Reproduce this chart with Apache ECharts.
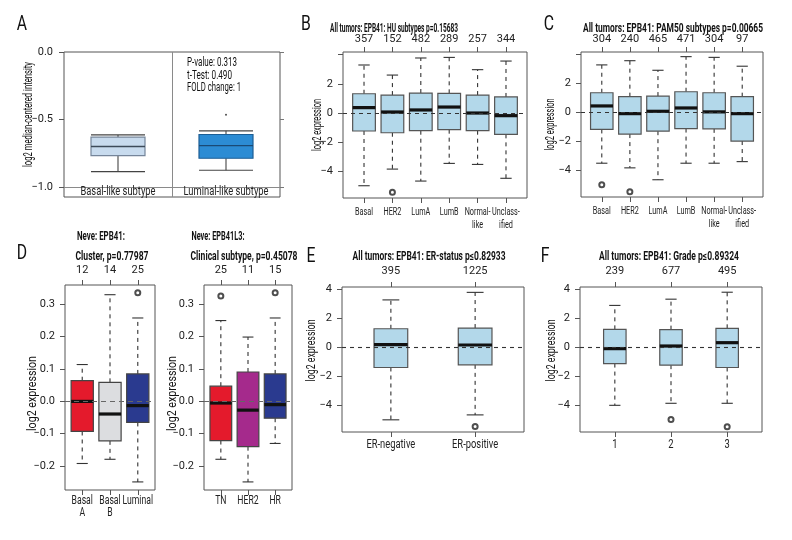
<!DOCTYPE html>
<html>
<head>
<meta charset="utf-8">
<script src="https://cdn.jsdelivr.net/npm/echarts@6.0.0/dist/echarts.min.js"></script>
<style>html,body{margin:0;padding:0;background:#fff}#main{width:792px;height:540px}</style>
</head>
<body>
<div id="main"></div>
<script>
var FONT = "Roboto,'Liberation Sans',sans-serif";

// every box is [lower whisker, Q1, median, Q3, upper whisker]
// A: cell lines
var aCats = ['Basal-like subtype', 'Luminal-like subtype'];
var aBox = [[-0.886, -0.767, -0.700, -0.631, -0.614], [-0.876, -0.787, -0.693, -0.611, -0.584]];
var aOut = [[2, -0.465]];

// B: HU subtypes
var huCats = ['Basal', 'HER2', 'LumA', 'LumB', 'Normal-\nlike', 'Unclass-\nified'];
var huN = [357, 152, 482, 289, 257, 344];
var huBox = [
    [-4.98, -1.23, 0.37, 1.32, 3.29],
    [-3.84, -1.35, 0.07, 1.23, 2.60],
    [-4.66, -1.21, 0.21, 1.37, 3.77],
    [-3.45, -1.14, 0.41, 1.35, 3.81],
    [-3.52, -1.21, 0.00, 1.23, 2.97],
    [-4.47, -1.46, -0.18, 1.10, 3.56]];
var huOut = [[2, -5.43]];

// C: PAM50 subtypes
var pamCats = huCats;
var pamN = [304, 240, 465, 471, 304, 97];
var pamBox = [
    [-3.49, -1.16, 0.46, 1.37, 3.29],
    [-3.81, -1.48, -0.07, 1.10, 3.58],
    [-4.63, -1.28, 0.09, 1.14, 2.92],
    [-3.49, -1.10, 0.32, 1.44, 3.86],
    [-3.49, -1.12, 0.05, 1.37, 3.81],
    [-3.38, -1.96, -0.07, 1.10, 3.20]];
var pamOut = [[1, -4.98], [2, -5.46]];

// D: Neve cluster / clinical subtype
var clCats = ['Basal\nA', 'Basal\nB', 'Luminal'];
var clN = [12, 14, 25];
var clBox = [[-0.192, -0.093, 0.000, 0.064, 0.114], [-0.179, -0.122, -0.039, 0.059, 0.330], [-0.249, -0.065, -0.013, 0.085, 0.258]];
var clOut = [[3, 0.336]];
var clColors = ['#e41a2c', '#dcdde0', '#2a3a8f'];

var csCats = ['TN', 'HER2', 'HR'];
var csN = [25, 11, 15];
var csBox = [[-0.179, -0.121, -0.005, 0.047, 0.250], [-0.249, -0.140, -0.027, 0.091, 0.199], [-0.130, -0.052, -0.010, 0.085, 0.258]];
var csOut = [[1, 0.326], [3, 0.336]];
var csColors = ['#e41a2c', '#a52a8c', '#2a3a8f'];

// E: ER status
var erCats = ['ER-negative', 'ER-positive'];
var erN = [395, 1225];
var erBox = [[-4.98, -1.37, 0.21, 1.30, 3.29], [-4.64, -1.19, 0.18, 1.35, 3.81]];
var erOut = [[2, -5.44]];

// F: grade
var grCats = ['1', '2', '3'];
var grN = [239, 677, 495];
var grBox = [[-3.98, -1.10, -0.07, 1.26, 2.91], [-3.84, -1.21, 0.11, 1.24, 3.34], [-3.84, -1.37, 0.34, 1.33, 3.82]];
var grOut = [[2, -4.96], [3, -5.45]];

var grids = [], xAxes = [], yAxes = [], series = [], graphics = [];

function minus(v, d) {
    var s = Math.abs(v).toFixed(d);
    return v < -1e-9 ? '\u2212' + s : s;
}

function boxRender(p) {
    return function (params, api) {
        var x = api.value(0);
        var lo = api.coord([x, api.value(1)]);
        var q1 = api.coord([x, api.value(2)]);
        var md = api.coord([x, api.value(3)]);
        var q3 = api.coord([x, api.value(4)]);
        var hi = api.coord([x, api.value(5)]);
        var bw = api.size([p.wex, 0])[0];
        var cw = bw * p.staple;
        var cx = q1[0];
        var i = params.dataIndex;
        var fill = Array.isArray(p.fill) ? p.fill[i] : p.fill;
        var border = Array.isArray(p.border) ? p.border[i] : p.border;
        var med = Array.isArray(p.median) ? p.median[i] : p.median;
        var ws = {stroke: p.whisker, lineWidth: 1.1, lineDash: p.dash};
        var cs = {stroke: p.whisker, lineWidth: 1.1};
        return {type: 'group', children: [
            {type: 'line', shape: {x1: cx, y1: q3[1], x2: cx, y2: hi[1]}, style: ws},
            {type: 'line', shape: {x1: cx, y1: q1[1], x2: cx, y2: lo[1]}, style: ws},
            {type: 'line', shape: {x1: cx - cw / 2, y1: hi[1], x2: cx + cw / 2, y2: hi[1]}, style: cs},
            {type: 'line', shape: {x1: cx - cw / 2, y1: lo[1], x2: cx + cw / 2, y2: lo[1]}, style: cs},
            {type: 'rect', shape: {x: cx - bw / 2, y: q3[1], width: bw, height: q1[1] - q3[1]},
                style: {fill: fill, stroke: border, lineWidth: 1.2}},
            {type: 'line', shape: {x1: cx - bw / 2, y1: md[1], x2: cx + bw / 2, y2: md[1]},
                style: {stroke: med, lineWidth: p.medW}}
        ]};
    };
}

// category names, drawn at the axis positions but narrowed like the condensed face of the original
function labelRender(p) {
    return function (params, api) {
        var pt = api.coord([api.value(0), p.ymin]);
        return {type: 'text', x: pt[0], y: p.labelInside ? pt[1] - p.xMargin : pt[1] + p.xMargin, scaleX: p.xScale,
            style: {text: p.cats[params.dataIndex], font: p.xFont + 'px ' + FONT, fill: '#222',
                align: 'center', verticalAlign: p.labelInside ? 'middle' : 'top', lineHeight: p.xLine}};
    };
}

function addPanel(p) {
    var gi = grids.length;
    grids.push({left: p.left, top: p.top, width: p.width, height: p.height, show: true,
        borderColor: '#555', borderWidth: 1, backgroundColor: 'transparent'});
    var n = p.cats.length;
    var pos = [];
    for (var i = 1; i <= n; i++) pos.push(i);
    var pad = p.pad != null ? p.pad : 0.5 + 0.04 * n;
    var xmin = 1 - pad, xmax = n + pad;

    var xi = xAxes.length;
    xAxes.push({gridIndex: gi, type: 'value', position: 'bottom', min: xmin, max: xmax,
        axisLine: {show: false, onZero: false}, splitLine: {show: false}, axisLabel: {show: false},
        axisTick: {show: p.bottomTick !== false, customValues: pos, length: 5, lineStyle: {color: '#555'}}});
    if (p.counts) {
        xAxes.push({gridIndex: gi, type: 'value', position: 'top', min: xmin, max: xmax,
            axisLine: {show: false, onZero: false}, splitLine: {show: false},
            axisTick: {customValues: pos, length: 5, lineStyle: {color: '#555'}},
            axisLabel: {customValues: pos, showMinLabel: true, showMaxLabel: true, margin: p.topMargin || 7,
                color: '#222', fontSize: p.tickFont, fontFamily: FONT,
                formatter: function (v) { return String(p.counts[Math.round(v) - 1]); }}});
    }

    var yi = yAxes.length;
    yAxes.push({gridIndex: gi, type: 'value', min: p.ymin, max: p.ymax,
        axisLine: {show: false}, splitLine: {show: false},
        axisTick: {customValues: p.yTicks, length: 5, lineStyle: {color: '#555'}},
        axisLabel: {customValues: p.yLabels, showMinLabel: true, showMaxLabel: true, margin: p.yMargin || 10,
            color: '#222', fontSize: p.tickFont, fontFamily: FONT,
            formatter: function (v) { return minus(v, p.yDec); }}});
    if (p.rightTicks) {
        yAxes.push({gridIndex: gi, type: 'value', position: 'right', min: p.ymin, max: p.ymax,
            axisLine: {show: false}, splitLine: {show: false}, axisLabel: {show: false},
            axisTick: {customValues: p.rightTicks, length: 4, lineStyle: {color: '#777'}}});
    }

    series.push({type: 'custom', xAxisIndex: xi, yAxisIndex: yi, silent: true, z: 2,
        renderItem: boxRender(p), encode: {x: 0, y: [1, 2, 3, 4, 5]},
        data: p.box.map(function (b, k) { return [k + 1].concat(b); }),
        markLine: {silent: true, symbol: ['none', 'none'], label: {show: false}, animation: false,
            lineStyle: p.refStyle, data: p.refLines}});
    series.push({type: 'scatter', xAxisIndex: xi, yAxisIndex: yi, silent: true, z: 4,
        data: p.out, symbol: p.outSymbol || 'emptyCircle', symbolSize: p.outSize || 5,
        itemStyle: {color: '#222', borderWidth: 1}});
    series.push({type: 'custom', xAxisIndex: xi, yAxisIndex: yi, silent: true, z: 5, clip: false,
        renderItem: labelRender(p), encode: {x: 0},
        data: pos.map(function (v) { return [v]; })});

    if (p.yName) addText(p.yName, p.yNameX, p.top + p.height / 2 + (p.yNameDy || 0), p.yNameSize, false, p.yNameLen, null, true);
}

var measureCtx = document.createElement('canvas').getContext('2d');
function addText(txt, x, y, size, bold, width, align, vertical) {
    var font = (bold ? 'bold ' : '') + size + 'px ' + FONT;
    measureCtx.font = font;
    var s = width ? width / measureCtx.measureText(txt).width : 0.75;
    // scale is applied before rotation, so scaleX narrows along the text in both cases
    graphics.push({type: 'text', x: x, y: y, scaleX: s, rotation: vertical ? Math.PI / 2 : 0, silent: true,
        style: {text: txt, font: font, fill: '#111', align: align || 'center', verticalAlign: 'middle'}});
}

var rStyle = {wex: 0.8, staple: 0.5, dash: [4, 4], whisker: '#333', border: '#555', median: '#111', medW: 3.2,
    tickFont: 11, refStyle: {type: [4, 4], color: '#333', width: 1.1}, refLines: [{yAxis: 0}]};
function rPanel(extra) {
    var p = {};
    for (var k in rStyle) p[k] = rStyle[k];
    for (k in extra) p[k] = extra[k];
    addPanel(p);
}

// A
addPanel({left: 64, top: 52, width: 216, height: 145, cats: aCats, box: aBox, out: aOut, pad: 0.5,
    ymin: -1.074, ymax: 0, yTicks: [0, -0.5, -1], yLabels: [0, -0.5, -1], yDec: 1, yMargin: 11, tickFont: 11,
    yName: 'log2 median-centered intensity', yNameX: 29, yNameDy: -10, yNameSize: 12, yNameLen: 105,
    rightTicks: [0, -0.5, -1], bottomTick: false, labelInside: true, xMargin: 5.5, xFont: 12, xScale: 0.78,
    wex: 0.5, staple: 1, dash: null, whisker: '#444',
    fill: ['#c8dbee', '#2c8cd4'], border: ['#75859a', '#1d5e94'], median: ['#3d4b5a', '#1a4a75'], medW: 1.3,
    outSymbol: 'circle', outSize: 2,
    refStyle: {type: 'solid', color: '#8a8a8a', width: 1}, refLines: [{yAxis: -1}, {xAxis: 1.5}]});

// B, C
var bcY = {ymin: -5.82, ymax: 4.18, yTicks: [-4, -2, 0, 2, 4], yLabels: [-4, -2, 0, 2], yDec: 0,
    yName: 'log2 expression', yNameSize: 12, yNameLen: 52, yNameDy: 0,
    xMargin: 8, xFont: 11, xLine: 12.5, xScale: 0.66, fill: '#b3d8ea'};
rPanel(Object.assign({left: 343, top: 52, width: 184, height: 146, cats: huCats, counts: huN, box: huBox, out: huOut, yNameX: 318}, bcY));
rPanel(Object.assign({left: 581, top: 52, width: 182, height: 145, cats: pamCats, counts: pamN, box: pamBox, out: pamOut, yNameX: 551}, bcY));

// D
var dY = {ymin: -0.274, ymax: 0.36, yTicks: [-0.2, -0.1, 0, 0.1, 0.2, 0.3], yLabels: [-0.2, -0.1, 0, 0.1, 0.2, 0.3], yDec: 1,
    yName: 'log2 expression', yNameSize: 12, yNameLen: 75, yNameDy: 6,
    xMargin: 5, xFont: 12, xLine: 12, xScale: 0.72, topMargin: 9, border: '#444',
    refStyle: {type: [5, 4], color: '#666', width: 1.2}};
rPanel(Object.assign({left: 65, top: 285, width: 90, height: 205, cats: clCats, counts: clN, box: clBox, out: clOut, fill: clColors, yNameX: 33}, dY));
rPanel(Object.assign({left: 204, top: 285, width: 88, height: 205, cats: csCats, counts: csN, box: csBox, out: csOut, fill: csColors, yNameX: 173}, dY));

// E, F
var efY = {ymin: -5.82, ymax: 4.18, yTicks: [-4, -2, 0, 2, 4], yLabels: [-4, -2, 0, 2, 4], yDec: 0,
    yName: 'log2 expression', yNameSize: 12, yNameLen: 62, yNameDy: -9,
    xMargin: 6.5, xFont: 12, xLine: 12, xScale: 0.78, topMargin: 10, wex: 0.4, fill: '#b3d8ea'};
rPanel(Object.assign({left: 342, top: 287, width: 182, height: 145, cats: erCats, counts: erN, box: erBox, out: erOut, yNameX: 312}, efY));
rPanel(Object.assign({left: 580, top: 287, width: 182, height: 145, cats: grCats, counts: grN, box: grBox, out: grOut, yNameX: 552}, efY));

// panel letters
addText('A', 22, 25, 21, false);
addText('B', 306, 25, 21, false);
addText('C', 549, 25, 21, false);
addText('D', 22, 254, 21, false);
addText('E', 311, 257, 21, false);
addText('F', 545, 257, 21, false);

// titles
addText('All tumors: EPB41: HU subtypes p=0.15683', 394, 29, 12, true, 128);
addText('All tumors: EPB41: PAM50 subtypes p=0.00665', 673, 29, 12, true, 180);
addText('Neve: EPB41:', 101, 237, 12, true, 48);
addText('Cluster, p=0.77987', 112, 257, 12, true, 73);
addText('Neve: EPB41L3:', 218, 237, 12, true, 53);
addText('Clinical subtype, p=0.45078', 244, 257, 12, true, 107);
addText('All tumors: EPB41: ER-status p\u22640.82933', 429, 257, 12, true, 153);
addText('All tumors: EPB41: Grade p\u22640.89324', 669, 257, 12, true, 140);

// A statistics
addText('P-value: 0.313', 187, 63, 12, false, 50, 'left');
addText('t-Test: 0.490', 187, 76, 12, false, 45, 'left');
addText('FOLD change: 1', 187, 88, 12, false, 54, 'left');

var chart = echarts.init(document.getElementById('main'));
chart.setOption({
    animation: false,
    backgroundColor: '#fff',
    grid: grids,
    xAxis: xAxes,
    yAxis: yAxes,
    series: series,
    graphic: graphics
});
</script>
</body>
</html>
